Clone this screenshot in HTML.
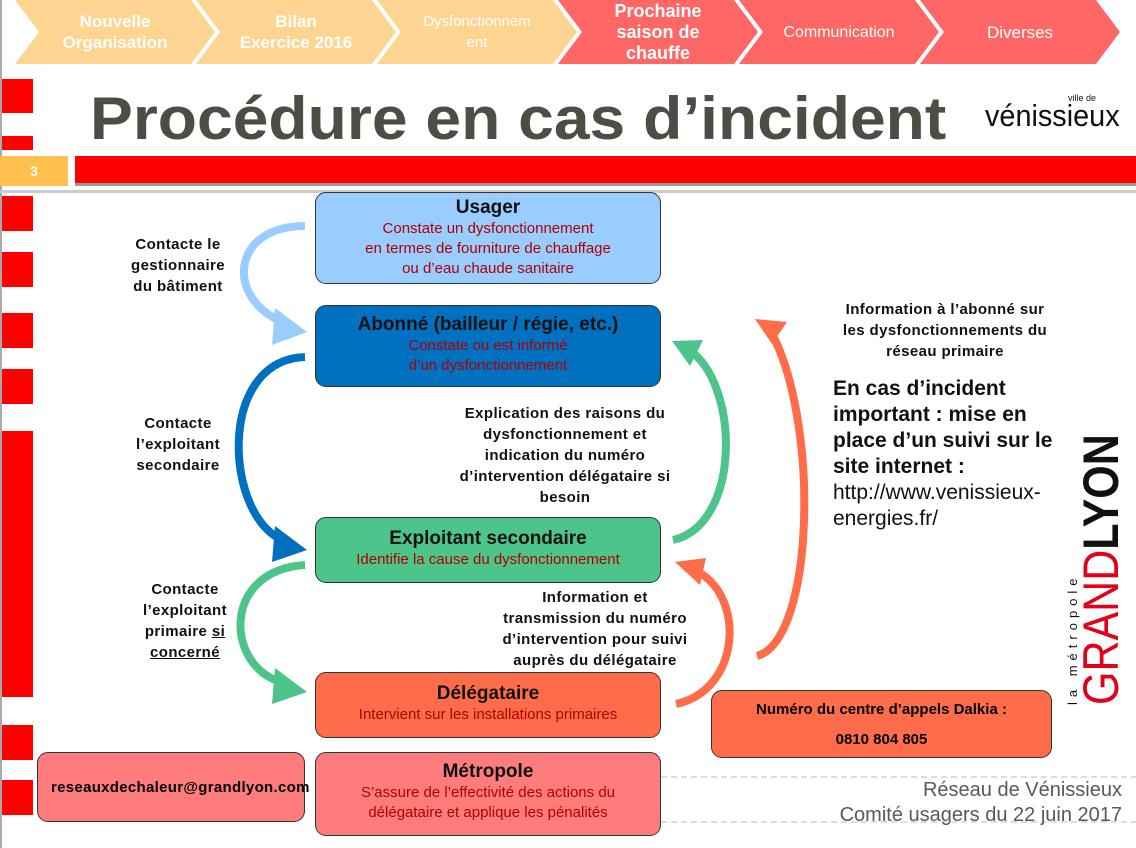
<!DOCTYPE html>
<html><head><meta charset="utf-8"><style>
*{margin:0;padding:0;box-sizing:border-box}
body{width:1136px;height:848px;position:relative;background:#fff;font-family:"Liberation Sans",Arial,sans-serif;overflow:hidden}
.a{position:absolute}
.box{position:absolute;border:1.5px solid #333;border-radius:11px;text-align:center}
.box b{display:block;font-size:19px;color:#111;margin-top:4px}
.box span{display:block;font-size:15px;color:#b00000;line-height:20px}
.lbl{position:absolute;font-weight:bold;font-size:15px;text-align:center;line-height:21px;color:#111;letter-spacing:0.4px}
.chev{position:absolute;top:0;height:64px;color:#fff;font-weight:bold;font-size:17px;text-align:center;display:flex;align-items:center;justify-content:center;line-height:21px;clip-path:polygon(0 0,88% 0,100% 50%,88% 100%,0 100%,12% 50%)}
.rb{position:absolute;left:2px;width:31px;background:#f00}
</style></head><body>
<div class="a" style="left:0;top:0;width:2px;height:848px;background:#aaa"></div>
<div class="chev" style="left:15px;width:200px;background:#fdd590">Nouvelle<br>Organisation</div>
<div class="chev" style="left:196px;width:200px;background:#fdd590">Bilan<br>Exercice 2016</div>
<div class="chev" style="left:377px;width:200px;background:#fdd590;font-weight:normal;font-size:15px">Dysfonctionnem<br>ent</div>
<div class="chev" style="left:558px;width:200px;background:#ff6666;font-size:18px">Prochaine<br>saison de<br>chauffe</div>
<div class="chev" style="left:739px;width:200px;background:#ff6666;font-weight:normal;font-size:16px">Communication</div>
<div class="chev" style="left:920px;width:200px;background:#ff6666;font-weight:normal;font-size:17px">Diverses</div>

<div class="rb" style="top:79px;height:34px"></div>
<div class="rb" style="top:136px;height:14px"></div>
<div class="a" style="left:0;top:156px;width:68px;height:30px;background:#ffc04d;color:#fff;font-weight:bold;font-size:14px;text-align:center;line-height:30px">3</div>
<div class="a" style="left:75px;top:156px;width:1061px;height:30px;background:#f00;border-bottom:3px solid #999"></div>
<div class="a" style="left:0;top:190px;width:1136px;height:3px;background:#ccc"></div>
<div class="a" style="left:90px;top:84px;font-size:60px;font-weight:bold;color:#4d4d45;transform:scaleX(1.07);transform-origin:left;white-space:nowrap">Procédure en cas d’incident</div>
<div class="a" style="top:93px;font-size:9px;color:#111;left:1068px">ville de</div>
<div class="a" style="left:985px;top:98px;font-size:31px;color:#111;transform:scaleX(0.93);transform-origin:left">vénissieux</div>

<div class="rb" style="top:196px;height:35px"></div>
<div class="rb" style="top:252px;height:35px"></div>
<div class="rb" style="top:313px;height:35px"></div>
<div class="rb" style="top:369px;height:35px"></div>
<div class="rb" style="top:431px;height:266px"></div>
<div class="rb" style="top:725px;height:35px"></div>
<div class="rb" style="top:780px;height:35px"></div>

<svg class="a" style="left:0;top:0" width="1136" height="848">
<g fill="none" stroke-width="8">
<path d="M305,226 C230,226 225,300 285,323" stroke="#99ccff"/>
<path d="M305,357 C215,360 225,520 285,541" stroke="#0070c0"/>
<path d="M305,565 C220,570 225,670 285,683" stroke="#4dc48a"/>
<path d="M673,540 C740,525 740,390 692,352" stroke="#4dc48a"/>
<path d="M676,704 C740,690 745,600 700,573" stroke="#ff6c4a"/>
<path d="M757,656 C815,640 820,420 770,330" stroke="#ff6c4a"/>
</g>
<polygon points="275,308 307,332 272,345" fill="#99ccff"/>
<polygon points="275,526 307,550 272,562" fill="#0070c0"/>
<polygon points="275,668 307,692 272,704" fill="#4dc48a"/>
<polygon points="672,341 703,340 690,366" fill="#4dc48a"/>
<polygon points="675,562 706,558 700,585" fill="#ff6c4a"/>
<polygon points="755,319 787,322 772,344" fill="#ff6c4a"/>
<line x1="661" y1="777" x2="1136" y2="777" stroke="#bbb" stroke-dasharray="6,4"/>
<line x1="661" y1="822" x2="1136" y2="822" stroke="#bbb" stroke-dasharray="6,4"/>
</svg>

<div class="box" style="left:315px;top:192px;width:346px;height:92px;background:#99ccff"><b>Usager</b><span>Constate un dysfonctionnement<br>en termes de fourniture de chauffage<br>ou d’eau chaude sanitaire</span></div>
<div class="box" style="left:315px;top:305px;width:346px;height:82px;background:#0070c0"><b style="margin-top:8px">Abonné (bailleur / régie, etc.)</b><span>Constate ou est informé<br>d’un dysfonctionnement</span></div>
<div class="box" style="left:315px;top:517px;width:346px;height:66px;background:#4dc48a"><b style="margin-top:10px">Exploitant secondaire</b><span>Identifie la cause du dysfonctionnement</span></div>
<div class="box" style="left:315px;top:672px;width:346px;height:66px;background:#ff6c4a"><b style="margin-top:10px">Délégataire</b><span>Intervient sur les installations primaires</span></div>
<div class="box" style="left:315px;top:752px;width:346px;height:84px;background:#ff7c7c"><b style="margin-top:8px">Métropole</b><span>S’assure de l’effectivité des actions du<br>délégataire et applique les pénalités</span></div>
<div class="box" style="left:37px;top:752px;width:268px;height:70px;background:#ff7c7c;font-weight:bold;font-size:15px;line-height:70px;text-align:left;padding-left:13px;overflow:visible;white-space:nowrap;letter-spacing:0.3px">reseauxdechaleur@grandlyon.com</div>
<div class="box" style="left:711px;top:690px;width:341px;height:68px;background:#ff6c4a;font-weight:bold;font-size:15px;line-height:30px;padding-top:4px">Numéro du centre d’appels Dalkia :<br>0810 804 805</div>

<div class="lbl" style="left:113px;top:234px;width:130px">Contacte le<br>gestionnaire<br>du bâtiment</div>
<div class="lbl" style="left:113px;top:413px;width:130px">Contacte<br>l’exploitant<br>secondaire</div>
<div class="lbl" style="left:120px;top:579px;width:130px">Contacte<br>l’exploitant<br>primaire <u>si<br>concerné</u></div>
<div class="lbl" style="left:430px;top:403px;width:270px">Explication des raisons du<br>dysfonctionnement et<br>indication du numéro<br>d’intervention délégataire si<br>besoin</div>
<div class="lbl" style="left:460px;top:587px;width:270px">Information et<br>transmission du numéro<br>d’intervention pour suivi<br>auprès du délégataire</div>
<div class="lbl" style="left:815px;top:299px;width:260px">Information à l’abonné sur<br>les dysfonctionnements du<br>réseau primaire</div>
<div class="a" style="left:833px;top:376px;font-size:21px;line-height:26px;color:#111"><b>En cas d’incident<br>important : mise en<br>place d’un suivi sur le<br>site internet :</b><br>http://www.venissieux-<br>energies.fr/</div>

<div class="a" style="left:1066px;top:705px;transform:rotate(-90deg);transform-origin:0 0;white-space:nowrap;font-size:13px;letter-spacing:5px;color:#111;line-height:14px">la métropole</div>
<div class="a" style="left:1080px;top:705px;transform:rotate(-90deg) scaleX(0.86);transform-origin:0 0;white-space:nowrap;font-size:50px;line-height:42px"><span style="color:#e2001a">GRAND</span><span style="color:#111;font-weight:bold">LYON</span></div>

<div class="a" style="right:14px;top:778px;font-size:20px;color:#595959;text-align:right;line-height:25px">Réseau de Vénissieux<br>Comité usagers du 22 juin 2017</div>
</body></html>
